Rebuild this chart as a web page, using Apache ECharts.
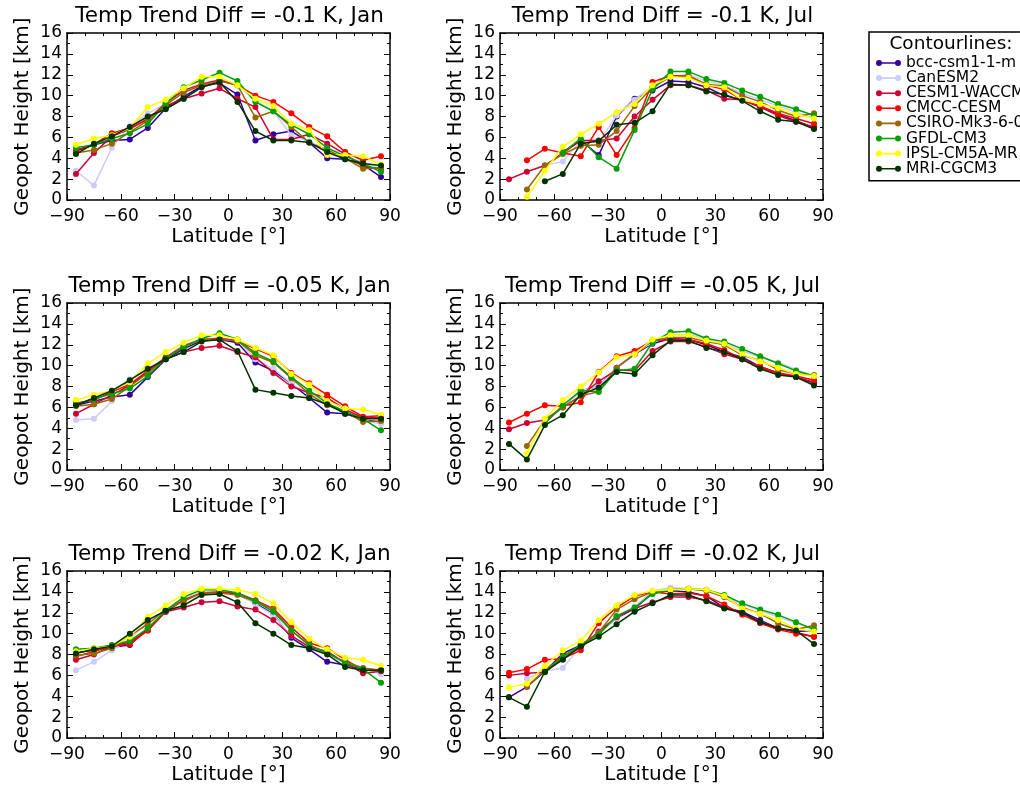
<!DOCTYPE html>
<html>
<head>
<meta charset="utf-8">
<script src="https://cdn.jsdelivr.net/npm/echarts@6/dist/echarts.min.js"></script>
<style>
html,body{margin:0;padding:0;background:#fff;}
#c{width:1020px;height:788px;}
</style>
</head>
<body>
<div id="c"></div>
<script>
const lats = [-85,-75,-65,-55,-45,-35,-25,-15,-5,5,15,25,35,45,55,65,75,85];
const models = ['bcc-csm1-1-m','CanESM2','CESM1-WACCM','CMCC-CESM','CSIRO-Mk3-6-0','GFDL-CM3','IPSL-CM5A-MR','MRI-CGCM3'];
const colors = ['#330099','#ccccff','#cc0033','#ff0000','#996600','#00a000','#ffff00','#003300'];
const titles = ['Temp Trend Diff = -0.1 K, Jan','Temp Trend Diff = -0.1 K, Jul',
                'Temp Trend Diff = -0.05 K, Jan','Temp Trend Diff = -0.05 K, Jul',
                'Temp Trend Diff = -0.02 K, Jan','Temp Trend Diff = -0.02 K, Jul'];
const xTicks = [-90,-60,-30,0,30,60,90];
const yTicks = [0,2,4,6,8,10,12,14,16];

// rows follow models order
const jan010 = [
 [4.7,5.3,5.7,5.8,6.9,8.8,9.9,10.9,11.2,10.1,5.7,6.3,6.6,5.5,4.0,3.9,3.4,2.2],
 [2.8,1.4,5.0,7.1,8.3,9.2,10.3,11.2,11.5,11.0,9.5,8.5,6.2,5.6,4.8,4.6,3.6,3.0],
 [2.5,4.5,6.1,6.8,7.8,9.0,9.7,10.2,10.7,9.7,8.9,5.8,5.8,6.3,5.4,4.4,3.2,3.0],
 [4.8,5.3,6.4,6.9,7.7,9.3,10.5,11.1,11.5,11.0,10.0,9.4,8.3,7.0,6.1,4.6,3.8,4.2],
 [4.5,4.8,5.4,6.5,7.6,9.1,10.3,11.0,11.4,11.0,7.9,8.5,7.0,5.5,4.8,4.0,3.0,3.1],
 [5.0,5.3,5.9,6.4,7.3,9.2,10.8,11.5,12.2,11.4,9.4,8.5,7.2,6.3,5.0,4.2,3.5,2.7],
 [5.3,5.9,6.2,6.9,8.9,9.6,10.7,11.8,11.8,11.0,9.7,9.0,7.3,6.7,4.3,4.3,4.2,3.4],
 [4.4,5.4,6.1,7.0,8.0,8.7,9.7,10.8,11.3,9.4,6.6,5.7,5.7,5.5,4.6,3.9,3.5,3.3]
];
const jul010 = [
 [null,null,null,4.6,5.7,4.3,8.0,9.7,10.5,11.4,11.3,10.8,10.0,9.6,8.9,8.2,7.6,6.9],
 [null,null,3.3,3.7,5.7,5.5,8.1,9.6,10.9,11.8,12.0,11.4,11.0,10.2,9.6,9.0,8.4,7.9],
 [2.0,2.7,3.3,4.5,5.7,5.7,5.9,8.0,9.6,11.0,11.0,10.5,9.7,9.6,8.9,8.1,7.5,7.0],
 [null,3.8,4.9,4.5,4.2,7.0,4.3,6.9,11.3,11.9,11.9,11.0,10.6,9.6,9.0,8.3,7.8,7.3],
 [null,1.0,3.3,4.4,5.2,5.3,6.6,9.0,10.8,11.8,11.9,11.1,10.9,10.0,9.4,8.6,8.0,8.3],
 [null,null,null,4.5,5.9,4.1,3.0,6.7,10.6,12.3,12.3,11.6,11.2,10.5,9.9,9.2,8.7,8.1],
 [null,0.3,2.8,5.1,6.3,7.3,8.4,9.2,11.0,11.8,11.7,11.0,10.8,9.6,9.2,8.8,8.2,7.8],
 [null,null,1.8,2.5,5.4,5.65,7.2,7.4,8.5,11.1,11.0,10.4,10.1,9.5,8.5,7.7,7.5,6.8]
];
const jan005 = [
 [6.2,6.6,7.0,7.2,8.9,10.6,11.6,12.4,12.5,12.2,10.3,9.5,8.3,6.9,5.5,5.4,4.8,4.6],
 [4.8,4.9,6.6,8.7,9.6,10.8,11.9,12.5,12.7,12.4,10.6,9.7,8.3,7.2,6.2,5.5,4.8,4.4],
 [5.4,6.3,7.2,8.1,9.4,10.6,11.3,11.7,11.9,11.3,10.8,9.3,8.0,7.4,6.9,5.8,5.0,5.0],
 [6.4,6.7,7.5,8.2,9.5,10.8,11.9,12.5,12.6,12.4,11.6,10.9,9.3,8.3,7.2,6.1,5.1,5.2],
 [6.1,6.3,6.8,8.0,9.3,10.7,11.8,12.5,12.5,12.4,11.0,10.3,8.8,7.3,6.2,5.6,4.6,4.7],
 [6.3,6.8,7.3,7.8,9.0,10.7,11.8,12.6,13.1,12.5,11.2,10.4,8.9,7.6,6.4,5.6,4.9,3.8],
 [6.7,7.2,7.6,8.4,10.2,11.3,12.2,12.9,12.9,12.5,11.7,11.0,9.2,8.2,6.6,5.9,5.8,5.3],
 [6.2,6.9,7.6,8.6,9.7,10.6,11.3,12.3,12.5,11.4,7.7,7.4,7.1,6.9,6.3,5.4,4.9,4.9]
];
const jul005 = [
 [null,null,4.5,6.1,7.6,8.0,9.8,11.1,12.1,12.6,12.5,12.0,11.3,10.8,9.9,9.3,8.9,8.3],
 [null,null,4.6,6.1,7.6,8.0,9.8,11.2,12.2,12.9,13.0,12.5,12.1,11.4,10.8,10.3,9.6,9.0],
 [3.9,4.5,4.8,6.0,7.1,8.5,9.6,9.5,11.4,12.3,12.3,11.8,11.1,10.6,9.8,9.3,8.9,8.4],
 [4.55,5.4,6.2,6.1,6.5,9.4,10.9,11.4,12.4,12.5,12.5,12.1,11.5,10.6,9.9,9.3,9.0,8.6],
 [null,2.3,4.8,6.0,7.1,7.5,9.8,11.1,12.4,12.7,12.7,12.3,12.0,11.0,10.5,9.6,9.2,9.1],
 [null,null,4.5,6.2,7.6,7.5,9.5,9.7,12.2,13.2,13.3,12.6,12.3,11.6,10.9,10.2,9.5,9.0],
 [null,1.6,4.9,6.7,8.0,9.35,10.8,11.1,12.5,12.9,12.9,12.4,12.1,11.1,10.4,9.8,9.2,9.0],
 [2.5,1.0,4.3,5.25,7.2,7.9,9.4,9.2,11.0,12.4,12.4,11.7,11.3,10.6,9.7,9.1,8.9,8.1]
];
const jan002 = [
 [8.2,8.4,8.7,8.9,10.5,12.1,13.2,13.9,14.0,13.8,12.9,11.9,9.6,8.5,7.3,7.0,6.6,6.5],
 [6.5,7.3,8.4,9.5,11.1,12.3,13.4,14.0,14.1,13.9,12.8,11.8,9.8,8.8,8.0,7.1,6.7,6.1],
 [7.5,8.0,8.8,9.2,10.3,12.1,12.5,13.0,13.1,12.6,12.3,11.3,9.8,8.7,8.3,7.2,6.2,6.4],
 [7.8,8.3,8.8,9.0,10.3,12.2,13.2,13.9,14.0,13.9,13.2,12.4,10.6,9.1,8.6,7.5,6.5,6.5],
 [7.9,8.1,8.6,9.8,10.9,12.3,13.1,13.9,13.9,13.7,13.1,12.3,10.3,8.9,8.1,7.3,6.7,6.5],
 [8.5,8.6,8.9,9.3,10.5,12.2,13.5,14.2,14.2,13.9,13.1,12.1,10.3,8.9,8.2,7.2,6.6,5.3],
 [8.3,8.6,8.8,9.7,11.6,12.7,13.8,14.3,14.3,14.2,13.8,12.9,11.1,9.5,8.5,7.7,7.5,6.9],
 [8.1,8.5,8.8,10.0,11.3,12.2,12.7,13.7,13.8,13.0,11.0,10.0,8.9,8.6,8.0,6.8,6.5,6.5]
];
const jul002 = [
 [3.9,4.9,6.4,8.1,8.9,10.1,11.5,12.4,13.9,14.1,14.0,13.6,12.5,12.1,11.3,10.5,10.2,10.3],
 [null,5.7,6.4,6.7,8.8,10.0,11.5,12.6,14.1,14.4,14.3,14.1,13.5,12.8,12.2,11.6,11.0,10.5],
 [6.0,6.2,6.3,7.6,8.7,10.2,11.6,12.4,13.0,13.5,13.5,13.2,12.5,12.0,11.1,10.6,10.1,9.7],
 [6.25,6.6,7.5,7.6,8.4,11.0,12.5,13.6,14.0,13.8,13.9,13.6,12.8,11.8,11.0,10.4,10.0,9.7],
 [null,4.9,6.5,7.8,8.9,10.1,12.3,13.3,14.0,14.2,14.3,14.1,13.5,12.5,11.9,11.0,10.4,10.8],
 [null,null,6.3,7.8,8.9,9.9,11.7,12.5,13.8,14.2,14.3,14.2,13.7,12.9,12.3,11.8,11.1,10.4],
 [4.85,5.2,6.9,8.4,9.3,11.3,12.7,13.7,14.1,14.2,14.3,14.2,13.6,12.4,11.9,11.3,10.5,10.2],
 [3.9,3.0,6.35,7.5,8.8,9.7,10.9,12.1,12.9,13.7,13.7,13.1,12.4,12.0,11.1,10.5,10.3,9.0]
];
const panels = [jan010, jul010, jan005, jul005, jan002, jul002];

const FONT = 'DejaVu Sans';
const colLeft = [67, 500];
const rowTop = [33, 303, 571];
const W = 323, H = 167;

const grids = [], xAxes = [], yAxes = [], series = [], titleArr = [];
panels.forEach((pdata, p) => {
  const r = Math.floor(p / 2), c = p % 2;
  grids.push({left: colLeft[c], top: rowTop[r], width: W, height: H, show: false});
  titleArr.push({
    text: titles[p], left: colLeft[c] + W / 2 + 1, top: rowTop[r] - 28, textAlign: 'center', padding: 0,
    textStyle: {fontFamily: FONT, fontSize: 21.5, fontWeight: 'normal', color: '#000'}
  });
  const common = {
    type: 'value', gridIndex: p,
    axisLine: {show: true, onZero: false, lineStyle: {color: '#000', width: 1.5}},
    axisTick: {show: true, inside: true, length: 6, lineStyle: {color: '#000', width: 1}},
    minorTick: {show: true, length: 3, lineStyle: {color: '#000', width: 1}},
    splitLine: {show: false}
  };
  xAxes.push(Object.assign({}, common, {
    min: xTicks[0], max: xTicks[xTicks.length - 1], interval: 30, position: 'bottom',
    minorTick: Object.assign({}, common.minorTick, {splitNumber: 3}),
    name: 'Latitude [°]', nameLocation: 'middle', nameGap: 27,
    nameTextStyle: {fontFamily: FONT, fontSize: 20, color: '#000'},
    axisLabel: {show: true, margin: 8, fontFamily: FONT, fontSize: 17, color: '#000',
      formatter: v => (v < 0 ? '\u2212' + (-v) : '' + v)}
  }));
  xAxes.push(Object.assign({}, common, {
    min: xTicks[0], max: xTicks[xTicks.length - 1], interval: 30, position: 'top',
    minorTick: Object.assign({}, common.minorTick, {splitNumber: 3}),
    axisLabel: {show: false}
  }));
  yAxes.push(Object.assign({}, common, {
    min: yTicks[0], max: yTicks[yTicks.length - 1], interval: 2, position: 'left',
    minorTick: Object.assign({}, common.minorTick, {splitNumber: 2}),
    name: 'Geopot Height [km]', nameLocation: 'middle', nameGap: 34, nameRotate: 90,
    nameTextStyle: {fontFamily: FONT, fontSize: 20, color: '#000'},
    axisLabel: {show: true, margin: 5, fontFamily: FONT, fontSize: 17, color: '#000'}
  }));
  yAxes.push(Object.assign({}, common, {
    min: yTicks[0], max: yTicks[yTicks.length - 1], interval: 2, position: 'right',
    minorTick: Object.assign({}, common.minorTick, {splitNumber: 2}),
    axisLabel: {show: false}
  }));
  pdata.forEach((vals, m) => {
    series.push({
      name: models[m], type: 'line', xAxisIndex: 2 * p, yAxisIndex: 2 * p,
      data: lats.map((la, i) => [la, vals[i]]),
      symbol: 'circle', symbolSize: 6, showSymbol: true, connectNulls: false,
      lineStyle: {color: colors[m], width: 1.5}, itemStyle: {color: colors[m]},
      emphasis: {disabled: true}, animation: false, z: 2 + m
    });
  });
});

titleArr.push({
  text: 'Contourlines:', left: 951, top: 35, textAlign: 'center', padding: 0,
  textStyle: {fontFamily: FONT, fontSize: 18.5, fontWeight: 'normal', color: '#000'}
});

const chart = echarts.init(document.getElementById('c'), null, {renderer: 'canvas'});
chart.setOption({
  backgroundColor: '#fff',
  animation: false,
  title: titleArr,
  grid: grids,
  xAxis: xAxes,
  yAxis: yAxes,
  legend: {
    data: models, orient: 'vertical', left: 869, top: 32,
    padding: [23, 40, 4, 7], itemGap: -0.9, itemWidth: 25, itemHeight: 6,
    borderColor: '#000', borderWidth: 1.5, borderRadius: 0, backgroundColor: '#fff',
    selectedMode: false,
    icon: 'path://M0,3 A3,3 0 1,1 6,3 A3,3 0 1,1 0,3 Z M3,2.2 L22,2.2 L22,3.8 L3,3.8 Z M19,3 A3,3 0 1,1 25,3 A3,3 0 1,1 19,3 Z',
    textStyle: {fontFamily: FONT, fontSize: 15.5, color: '#000', lineHeight: 15.5}
  },
  series: series
});
</script>
</body>
</html>
